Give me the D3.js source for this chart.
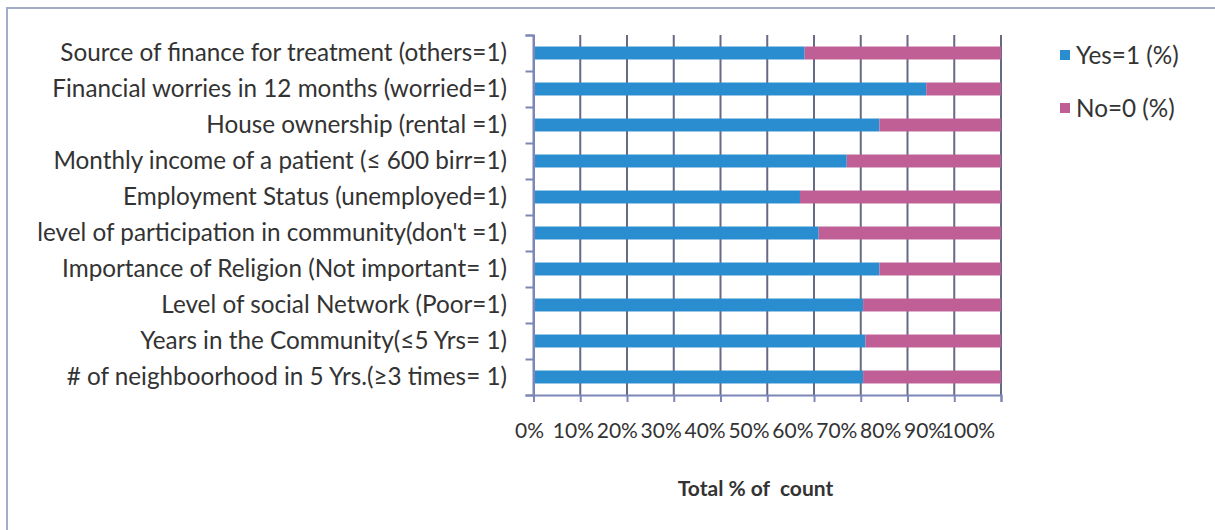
<!DOCTYPE html>
<html>
<head>
<meta charset="utf-8">
<script src="https://cdn.jsdelivr.net/npm/d3@7"></script>
<style>
  body { margin: 0; background: #fff; }
  text { font-family: Lato, "Open Sans", sans-serif; fill: #333; }
</style>
</head>
<body>
<div id="chart"></div>
<script>
// categories, top to bottom
var categories = [
  "Source of finance for treatment (others=1)",
  "Financial worries in 12 months (worried=1)",
  "House ownership (rental =1)",
  "Monthly income of a patient (\u2264 600 birr=1)",
  "Employment Status (unemployed=1)",
  "level of participation in community(don't =1)",
  "Importance of Religion (Not important= 1)",
  "Level of social Network (Poor=1)",
  "Years in the Community(\u22645 Yrs= 1)",
  "# of neighboorhood in 5 Yrs.(\u22653 times= 1)"
];
var yesValues = [58, 84, 74, 67, 57, 61, 74, 70.5, 71, 70.5];
var noValues  = [42, 16, 26, 33, 43, 39, 26, 29.5, 29, 29.5];
var seriesNames = ["Yes=1 (%)", "No=0 (%)"];
var xTicks = [0, 10, 20, 30, 40, 50, 60, 70, 80, 90, 100];

const width = 1215, height = 530;
const colors = ["#2a8dd0", "#bf5f95"];
const axisColor = "#7d86b8";
const gridColor = "#666a84";

var rows = categories.map(function(c, i) {
  return { cat: c, yes: yesValues[i], no: noValues[i] };
});

const svg = d3.select("#chart").append("svg")
    .attr("width", width)
    .attr("height", height);

// outer frame (only top and left edges show in the scan)
svg.append("rect").attr("x", 6).attr("y", 7).attr("width", width - 6).attr("height", 2)
    .attr("fill", "#a3abcb");
svg.append("rect").attr("x", 6).attr("y", 7).attr("width", 2).attr("height", height - 7)
    .attr("fill", "#a3abcb");

// scales
var x = d3.scaleLinear().domain([0, 100]).range([533.5, 1001]);
var y = d3.scaleBand().domain(categories).range([35, 395])
    .paddingInner(0.64).paddingOuter(0.32);
var yEdges = d3.scaleLinear().domain([0, categories.length]).range([35, 395]);
// tick labels in the picture are packed a bit tighter than the grid
var xLabel = d3.scaleLinear().domain([0, 100]).range([529, 968]);

// vertical gridlines
var gridG = svg.append("g").attr("class", "grid");
xTicks.forEach(function(t) {
  gridG.append("line")
      .attr("x1", x(t)).attr("x2", x(t))
      .attr("y1", 35).attr("y2", 395)
      .attr("stroke", t === 0 ? axisColor : gridColor)
      .attr("stroke-width", 2);
});

// stacked bars
var stack = d3.stack().keys(["yes", "no"]);
var layers = stack(rows);

svg.append("g")
  .selectAll("g")
  .data(layers)
  .join("g")
    .attr("fill", (d, i) => colors[i])
  .selectAll("rect")
  .data(d => d)
  .join("rect")
    .attr("x", d => x(d[0]))
    .attr("width", d => x(d[1]) - x(d[0]))
    .attr("y", d => y(d.data.cat))
    .attr("height", y.bandwidth());

// bottom axis
var xAxis = svg.append("g")
    .attr("transform", "translate(0,395)")
    .call(d3.axisBottom(x).tickValues(xTicks).tickSize(7)
      .tickFormat(d => d + "%").tickPadding(21));
xAxis.select(".domain").attr("stroke", axisColor).attr("stroke-width", 2);
xAxis.selectAll(".tick line").attr("stroke", axisColor).attr("stroke-width", 2);
xAxis.selectAll(".tick text")
    .attr("x", d => xLabel(d) - x(d))
    .style("font-size", "21px");

// left axis: boundary ticks
var yTickAxis = svg.append("g")
    .attr("transform", "translate(533.5,0)")
    .call(d3.axisLeft(yEdges).ticks(categories.length).tickSize(8).tickFormat(""));
yTickAxis.select(".domain").attr("stroke", axisColor).attr("stroke-width", 2);
yTickAxis.selectAll(".tick line").attr("stroke", axisColor).attr("stroke-width", 2);

// left axis: category labels
var yAxis = svg.append("g")
    .attr("transform", "translate(507,0)")
    .call(d3.axisLeft(y).tickSize(0).tickPadding(0));
yAxis.select(".domain").remove();
yAxis.selectAll(".tick text").style("font-size", "20px");

// fit label widths to the picture: longest label spans ~447px
var firstLabel = yAxis.select(".tick text").node();
var w = firstLabel.getComputedTextLength();
var fs = 20 * 447 / w;
yAxis.selectAll(".tick text").style("font-size", fs + "px");

// axis title
svg.append("text")
    .attr("x", 755.5).attr("y", 496)
    .attr("text-anchor", "middle")
    .style("font-size", "21px")
    .style("font-weight", "bold")
    .style("white-space", "pre")
    .text("Total % of  count");

// legend
var legend = svg.append("g")
  .selectAll("g")
  .data(seriesNames)
  .join("g")
    .attr("transform", (d, i) => "translate(1060," + (48 + i * 53) + ")");
legend.append("rect")
    .attr("y", 2).attr("width", 10).attr("height", 10)
    .attr("fill", (d, i) => colors[i]);
legend.append("text")
    .attr("x", 16).attr("y", 7).attr("dy", "0.35em")
    .style("font-size", fs + "px")
    .text(d => d);
</script>
</body>
</html>
